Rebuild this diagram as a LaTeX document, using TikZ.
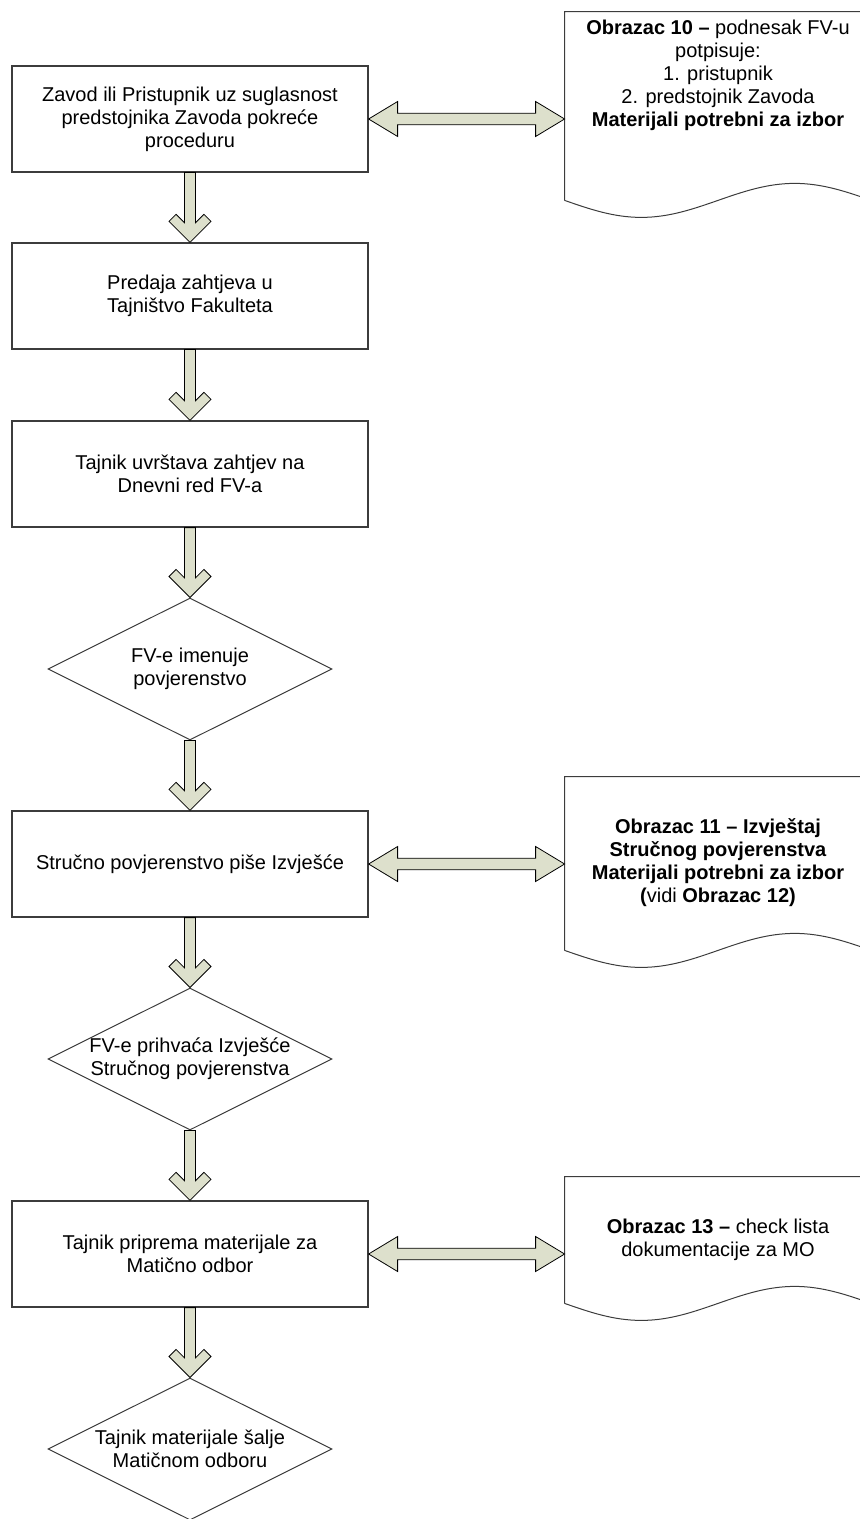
\documentclass[tikz,border=0pt]{standalone}
\usepackage{fontspec}
\setmainfont{Liberation Sans}
\usetikzlibrary{calc,shapes.geometric}
\definecolor{flowfill}{RGB}{221,224,204}
\definecolor{edgegray}{RGB}{60,60,60}

\tikzset{
  korak/.style={draw=edgegray, line width=0.6pt, rectangle, minimum width=178pt, minimum height=53pt, inner sep=0pt, align=center},
  odluka/.style={draw=edgegray, line width=0.5pt, diamond, aspect=2, minimum width=142pt, minimum height=71pt, inner sep=-2pt, align=center},
  obrazac/.style={rectangle, minimum width=153pt, inner sep=0pt},
  obrtekst/.style={align=center},
  docline/.style={draw=edgegray, line width=0.5pt},
  vflow/.style={draw=black, fill=flowfill, line width=0.4pt,
    to path={let \p1=(\tikztostart), \p2=(\tikztotarget) in
      (\x1-2.75pt,\y1) -- (\x1-2.75pt,\y2+9.83pt) -- (\x1-6.96pt,\y2+14.04pt) -- (\x1-10.5pt,\y2+10.5pt)
      -- (\x1,\y2) -- (\x1+10.5pt,\y2+10.5pt) -- (\x1+6.96pt,\y2+14.04pt) -- (\x1+2.75pt,\y2+9.83pt)
      -- (\x1+2.75pt,\y1) -- cycle}},
  hflow/.style={draw=black, fill=flowfill, line width=0.4pt,
    to path={let \p1=(\tikztostart), \p2=(\tikztotarget) in
      (\x1,\y1) -- (\x1+14.5pt,\y1+8.75pt) -- (\x1+14.5pt,\y1+2.9pt) -- (\x2-14.5pt,\y1+2.9pt)
      -- (\x2-14.5pt,\y1+8.75pt) -- (\x2,\y1) -- (\x2-14.5pt,\y1-8.75pt) -- (\x2-14.5pt,\y1-2.9pt)
      -- (\x1+14.5pt,\y1-2.9pt) -- (\x1+14.5pt,\y1-8.75pt) -- cycle}}
}

\begin{document}
\begin{tikzpicture}[x=0.5pt,y=-0.5pt,font=\fontsize{10}{11.5}\selectfont]
\useasboundingbox (0,0) rectangle (860,1519);
% glavni tok
\node[korak] (z1) at (190,119) {Zavod ili Pristupnik uz suglasnost\\predstojnika Zavoda pokreće\\proceduru};
\node[korak] (z2) at (190,296) {Predaja zahtjeva u\\Tajništvo Fakulteta};
\node[korak] (z3) at (190,474) {Tajnik uvrštava zahtjev na\\Dnevni red FV-a};
\node[odluka] (d1) at (190,669) {FV-e imenuje\\povjerenstvo};
\node[korak] (z4) at (190,864) {Stručno povjerenstvo piše Izvješće};
\node[odluka] (d2) at (190,1059) {FV-e prihvaća Izvješće\\Stručnog povjerenstva};
\node[korak] (z5) at (190,1254) {Tajnik priprema materijale za\\Matično odbor};
\node[odluka] (d3) at (190,1449) {Tajnik materijale šalje\\Matičnom odboru};
% obrasci
\node[obrazac, minimum height=94pt] (f10) at (718,106) {};
\node[obrazac, minimum height=86.5pt] (f11) at (718,863.5) {};
\node[obrazac, minimum height=63pt] (f13) at (718,1240) {};
\foreach \f in {f10,f11,f13}
  \draw[docline] (\f.south west) -- (\f.north west) -- (\f.north east) -- (\f.south east)
    sin ($(\f.south east)!0.5!(\f.south)+(0,8.5pt)$) cos (\f.south)
    sin ($(\f.south)!0.5!(\f.south west)+(0,-8.5pt)$) cos (\f.south west);
\node[obrtekst] (t10) at (718,75) {\textbf{Obrazac 10 –} podnesak FV-u\\potpisuje:\\1. pristupnik\\2. predstojnik Zavoda\\\textbf{Materijali potrebni za izbor}};
\node[obrtekst] (t11) at (718,863) {\textbf{Obrazac 11 – Izvještaj}\\\textbf{Stručnog povjerenstva}\\\textbf{Materijali potrebni za izbor}\\\textbf{(}vidi \textbf{Obrazac 12)}};
\node[obrtekst] (t13) at (718,1240) {\textbf{Obrazac 13 –} check lista\\dokumentacije za MO};
% strelice
\foreach \a/\b in {z1/z2,z2/z3,z3/d1,d1/z4,z4/d2,d2/z5,z5/d3}
  \draw[vflow] (\a.south) to (\b.north);
\draw[hflow] (z1.east) to (z1 -| f10.west);
\draw[hflow] (z4.east) to (z4 -| f11.west);
\draw[hflow] (z5.east) to (z5 -| f13.west);
\end{tikzpicture}
\end{document}
